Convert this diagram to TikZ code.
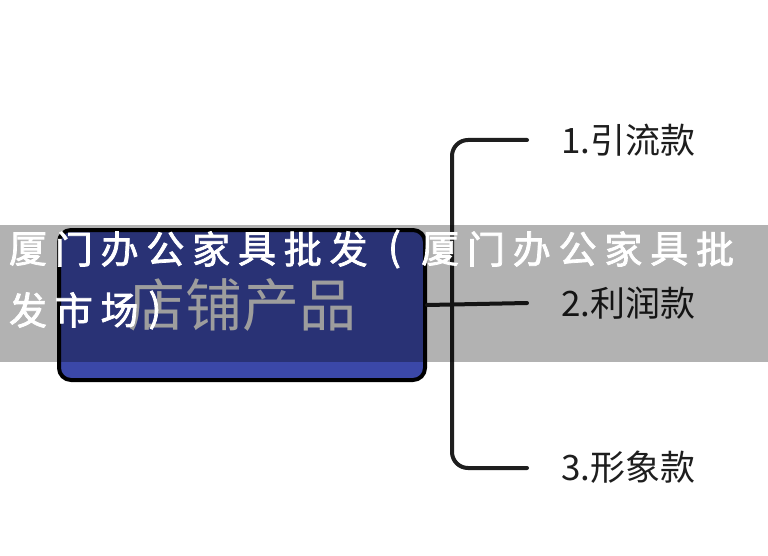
\documentclass[tikz,border=0pt]{standalone}
\usepackage{fontspec}
\newfontfamily\cjk{Noto Sans CJK SC}
\newfontfamily\cjkwm[FakeBold=2]{Noto Sans CJK SC}
\definecolor{boxblue}{HTML}{3B48A8}
\definecolor{txtdark}{HTML}{1E1E1E}
\definecolor{boxtxt}{HTML}{E2E2E2}
\tikzset{
  rootbox/.style={draw=black, line width=4pt, fill=boxblue, rounded corners=12pt,
    minimum width=366pt, minimum height=150pt, inner sep=0pt, text=boxtxt,
    font=\cjk\fontsize{57}{60}\selectfont},
  leaf/.style={anchor=west, inner sep=0pt, text=txtdark, font=\cjk\fontsize{35}{38}\selectfont},
  wire/.style={draw=txtdark, line width=4pt, line cap=round, line join=round},
  band/.style={fill=black, fill opacity=0.3, draw=none},
  wm/.style={text=white, inner sep=0pt, font=\cjkwm\fontsize{38}{40}\selectfont}
}
\begin{document}
\begin{tikzpicture}[x=1pt, y=-1pt]
\useasboundingbox (0,0) rectangle (768,556);
\fill[white] (0,0) rectangle (768,556);
\node[rootbox] (root) at (242,305) {店铺产品};
\node[leaf] (l1) at (561,140) {1.引流款};
\node[leaf] (l2) at (561,303) {2.利润款};
\node[leaf] (l3) at (561,467) {3.形象款};
\coordinate (e1) at (527,140);
\coordinate (e2) at (527,303);
\coordinate (e3) at (527,468);
\coordinate (c1) at (452,140);
\coordinate (c3) at (452,468);
\draw[wire, rounded corners=16pt] (e1) -- (c1) -- (c3) -- (e3);
\draw[wire] (root.east) -- (e2);
\path[band] (0,225) rectangle (768,362);
\node[wm] (w1) at (28,249) {厦};
\node[wm] (w2) at (73.8,249) {门};
\node[wm] (w3) at (119.6,249) {办};
\node[wm] (w4) at (165.4,249) {公};
\node[wm] (w5) at (211.2,249) {家};
\node[wm] (w6) at (257,249) {具};
\node[wm] (w7) at (302.8,249) {批};
\node[wm] (w8) at (348.6,249) {发};
\node[wm] (w9) at (394.4,249) {(};
\node[wm] (w10) at (440.2,249) {厦};
\node[wm] (w11) at (486,249) {门};
\node[wm] (w12) at (531.8,249) {办};
\node[wm] (w13) at (577.6,249) {公};
\node[wm] (w14) at (623.4,249) {家};
\node[wm] (w15) at (669.2,249) {具};
\node[wm] (w16) at (715,249) {批};
\node[wm] (v1) at (28,310) {发};
\node[wm] (v2) at (73.8,310) {市};
\node[wm] (v3) at (119.6,310) {场};
\node[wm] (v4) at (155,310) {)};
\end{tikzpicture}
\end{document}
